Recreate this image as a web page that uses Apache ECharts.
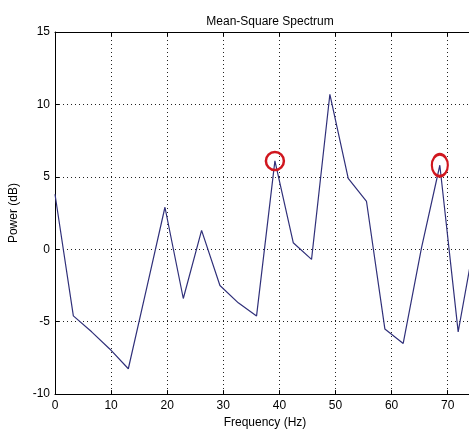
<!DOCTYPE html>
<html>
<head>
<meta charset="utf-8">
<script src="https://cdn.jsdelivr.net/npm/echarts@6/dist/echarts.min.js"></script>
<style>
  html, body { margin: 0; padding: 0; background: #fff; }
  #chart { width: 469px; height: 434px; }
</style>
</head>
<body>
<div id="chart"></div>
<script>
// frequency bins (Hz) and mean-square power (dB)
const freqs = [0, 3.27, 6.53, 9.8, 13.07, 16.33, 19.6, 22.87, 26.13, 29.4, 32.67, 35.93,
  39.2, 42.47, 45.73, 49.0, 52.27, 55.53, 58.8, 62.07, 65.33, 68.6, 71.87, 75.13]
const power = [3.8, -4.6, -5.7, -6.9, -8.25, -2.7, 2.9, -3.4, 1.3, -2.5, -3.7, -4.6,
  6.1, 0.45, -0.7, 10.7, 4.9, 3.3, -5.5, -6.5, 0.1, 5.8, -5.7, 1.3]
// the two circled peaks
const circled = [[39.2, 6.1], [68.6, 5.8]]

const chart = echarts.init(document.getElementById('chart'))
const font = 'Liberation Sans, Arial, sans-serif'
// the axes box runs a little past the right edge of the picture
const xMax = 73.8

chart.setOption({
  animation: false,
  backgroundColor: '#fff',
  title: {
    text: 'Mean-Square Spectrum',
    left: 265,
    textAlign: 'center',
    top: 11,
    textStyle: { fontFamily: font, fontSize: 12, fontWeight: 'normal', color: '#000' }
  },
  grid: { left: 55, right: 0, top: 32, bottom: 38 },
  xAxis: [{
    type: 'value',
    min: 0,
    max: xMax,
    interval: 10,
    name: 'Frequency (Hz)',
    nameLocation: 'middle',
    nameGap: 21,
    nameTextStyle: { fontFamily: font, fontSize: 12, color: '#000', padding: [0, 0, 0, 6] },
    axisLine: { onZero: false, lineStyle: { color: '#000', width: 1 } },
    axisTick: { inside: true, length: 4, lineStyle: { color: '#000' } },
    axisLabel: { fontFamily: font, fontSize: 12, color: '#000', margin: 6, showMaxLabel: false },
    splitLine: { show: true, lineStyle: { color: '#222', type: [1, 3], width: 1 } }
  }, {
    type: 'value',
    position: 'top',
    min: 0,
    max: xMax,
    interval: 10,
    axisLine: { show: true, onZero: false, lineStyle: { color: '#000', width: 1 } },
    axisTick: { show: true, inside: true, length: 4, lineStyle: { color: '#000' } },
    axisLabel: { show: false },
    splitLine: { show: false }
  }],
  yAxis: {
    type: 'value',
    min: -10,
    max: 15,
    interval: 5,
    name: 'Power (dB)',
    nameLocation: 'middle',
    nameGap: 35,
    nameTextStyle: { fontFamily: font, fontSize: 12, color: '#000' },
    axisLine: { show: true, onZero: false, lineStyle: { color: '#000', width: 1 } },
    axisTick: { show: true, inside: true, length: 4, lineStyle: { color: '#000' } },
    axisLabel: { fontFamily: font, fontSize: 12, color: '#000', margin: 5 },
    splitLine: { show: true, lineStyle: { color: '#222', type: [1, 3], width: 1 } }
  },
  series: [{
    type: 'line',
    data: freqs.map((f, i) => [f, power[i]]),
    symbol: 'none',
    lineStyle: { color: '#30307a', width: 1.2 },
    markPoint: {
      symbol: 'circle',
      label: { show: false },
      itemStyle: { color: 'rgba(0,0,0,0)', borderColor: '#d0161e', borderWidth: 2.5 },
      data: [
        { coord: circled[0], symbolSize: 18 },
        { coord: circled[1], symbolSize: [16, 22] }
      ]
    }
  }]
})
</script>
</body>
</html>
